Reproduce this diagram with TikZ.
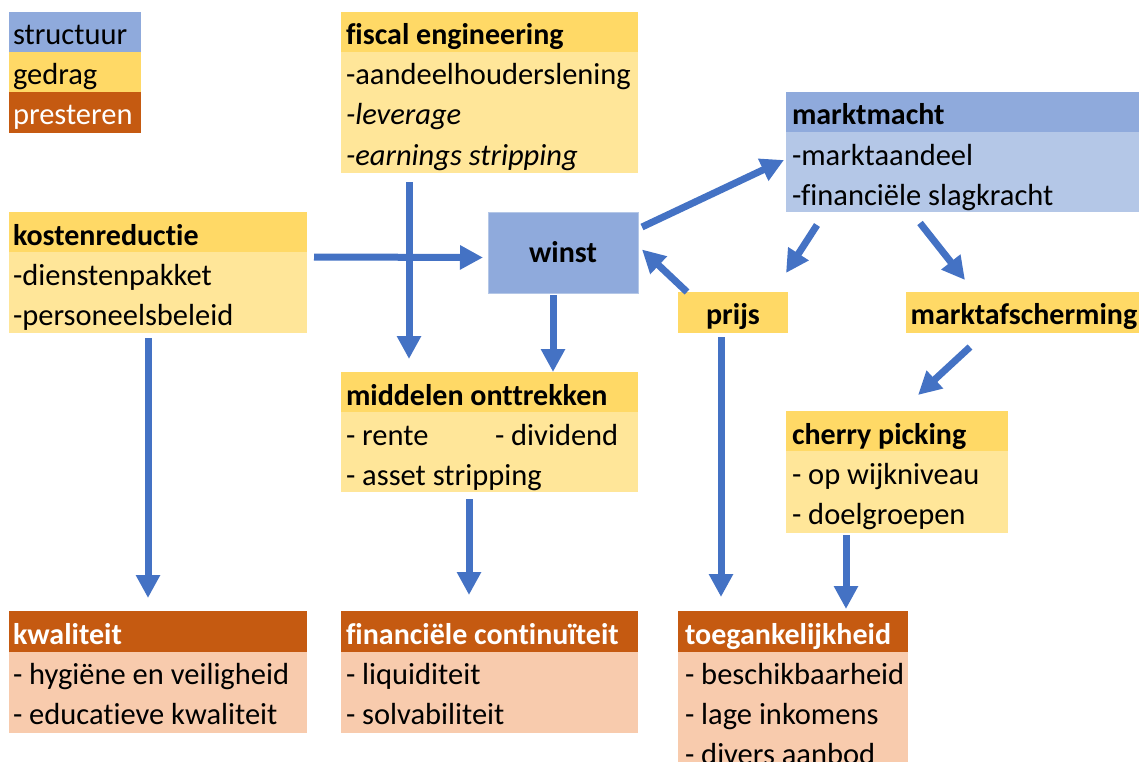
\documentclass[tikz,border=0pt]{standalone}
\usepackage{fontspec}
\setmainfont{Carlito}[Ligatures=NoCommon]
\usetikzlibrary{arrows.meta}
\definecolor{sblue}{HTML}{8FAADC}
\definecolor{lblue}{HTML}{B4C7E7}
\definecolor{sgold}{HTML}{FFD966}
\definecolor{lgold}{HTML}{FFE699}
\definecolor{sorange}{HTML}{C55A11}
\definecolor{lorange}{HTML}{F8CBAD}
\definecolor{arrblue}{HTML}{4472C4}
\tikzset{
  box/.style={draw=none, rectangle, inner sep=0pt, outer sep=0pt, anchor=north west},
  txt/.style={inner sep=0pt, outer sep=0pt, anchor=base west, font=\fontsize{30.5}{40}\selectfont},
  btxt/.style={txt, font=\fontsize{30}{40}\selectfont\bfseries},
  ctxt/.style={inner sep=0pt, outer sep=0pt, anchor=base, font=\fontsize{30}{40}\selectfont\bfseries},
  arr/.style={draw=arrblue, line width=7pt, -{Triangle[width=23pt,length=23pt]}},
}
\begin{document}
\begin{tikzpicture}[x=1pt,y=-1pt]
\useasboundingbox (0,0) rectangle (1139,762);
\begin{scope}
\clip (0,0) rectangle (1139,762);
% legend
\node[box, fill=sblue, minimum width=132, minimum height=40] (legS) at (9,12) {};
\node[box, fill=sgold, minimum width=132, minimum height=40] (legG) at (9,52) {};
\node[box, fill=sorange, minimum width=132, minimum height=41] (legP) at (9,92) {};
\node[txt] (legSt) at (13,45) {structuur};
\node[txt] (legGt) at (13,85) {gedrag};
\node[txt, text=white] (legPt) at (13,125) {presteren};
% kostenreductie
\node[box, fill=sgold, minimum width=298, minimum height=40] (kostH) at (9,212) {};
\node[box, fill=lgold, minimum width=298, minimum height=81] (kostB) at (9,252) {};
\node[btxt] (kostT) at (13,245) {kostenreductie};
\node[txt] (kost1) at (13,285) {-dienstenpakket};
\node[txt] (kost2) at (13,325) {-personeelsbeleid};
% fiscal engineering
\node[box, fill=sgold, minimum width=297, minimum height=40] (fiscH) at (341,12) {};
\node[box, fill=lgold, minimum width=297, minimum height=121] (fiscB) at (341,52) {};
\node[btxt] (fiscT) at (346,45) {fiscal engineering};
\node[txt] (fisc1) at (346,85) {-aandeelhouderslening};
\node[txt] (fisc2) at (346,125) {\itshape -leverage};
\node[txt] (fisc3) at (346,165) {\itshape -earnings stripping};
% winst
\node[box, fill=sblue, draw=lblue, line width=0.8pt, minimum width=150, minimum height=81] (winst) at (488,212) {};
\node[ctxt] (winstT) at (563,262) {winst};
% marktmacht
\node[box, fill=sblue, minimum width=353, minimum height=40] (mmH) at (786,92) {};
\node[box, fill=lblue, minimum width=353, minimum height=80] (mmB) at (786,132) {};
\node[btxt] (mmT) at (792,125) {marktmacht};
\node[txt] (mm1) at (792,165) {-marktaandeel};
\node[txt] (mm2) at (792,205) {-financiële slagkracht};
% prijs, marktafscherming
\node[box, fill=sgold, minimum width=110, minimum height=41] (prijs) at (678,292) {};
\node[ctxt] (prijsT) at (733,324) {prijs};
\node[box, fill=sgold, minimum width=233, minimum height=41] (mafs) at (906,292) {};
\node[ctxt] (mafsT) at (1024,324) {marktafscherming};
% middelen onttrekken
\node[box, fill=sgold, minimum width=297, minimum height=40] (midH) at (341,372) {};
\node[box, fill=lgold, minimum width=297, minimum height=80] (midB) at (341,412) {};
\node[btxt] (midT) at (346,405) {middelen onttrekken};
\node[txt] (mid1) at (346,445) {- rente};
\node[txt] (mid1b) at (495,445) {- dividend};
\node[txt] (mid2) at (346,485) {- asset stripping};
% cherry picking
\node[box, fill=sgold, minimum width=222, minimum height=40] (cherH) at (786,411) {};
\node[box, fill=lgold, minimum width=222, minimum height=82] (cherB) at (786,451) {};
\node[btxt] (cherT) at (792,444) {cherry picking};
\node[txt] (cher1) at (792,484) {- op wijkniveau};
\node[txt] (cher2) at (792,524) {- doelgroepen};
% kwaliteit
\node[box, fill=sorange, minimum width=298, minimum height=41] (kwalH) at (9,611) {};
\node[box, fill=lorange, minimum width=298, minimum height=81] (kwalB) at (9,652) {};
\node[btxt, text=white] (kwalT) at (13,644) {kwaliteit};
\node[txt] (kwal1) at (13,684) {- hygiëne en veiligheid};
\node[txt] (kwal2) at (13,724) {- educatieve kwaliteit};
% financiele continuiteit
\node[box, fill=sorange, minimum width=297, minimum height=41] (finH) at (341,611) {};
\node[box, fill=lorange, minimum width=297, minimum height=81] (finB) at (341,652) {};
\node[btxt, text=white] (finT) at (346,644) {financiële continuïteit};
\node[txt] (fin1) at (346,684) {- liquiditeit};
\node[txt] (fin2) at (346,724) {- solvabiliteit};
% toegankelijkheid
\node[box, fill=sorange, minimum width=230, minimum height=41] (toegH) at (678,611) {};
\node[box, fill=lorange, minimum width=230, minimum height=130] (toegB) at (678,652) {};
\node[btxt, text=white] (toegT) at (685,644) {toegankelijkheid};
\node[txt] (toeg1) at (685,684) {- beschikbaarheid};
\node[txt] (toeg2) at (685,724) {- lage inkomens};
\node[txt] (toeg3) at (685,764) {- divers aanbod};
\end{scope}
% arrows
\draw[arr] ([shift={(7,5)}]kostH.south east) -- ([shift={(-5,5)}]winst.west);
\draw[arr] ([shift={(68,9)}]fiscB.south west) -- ([shift={(68,-13)}]midH.north west);
\draw[arr] ([shift={(65,2)}]winst.south west) -- ([shift={(212,0)}]midH.north west);
\draw[arr] ([shift={(4,15)}]winst.north east) -- ([shift={(-2,28)}]mmB.north west);
\draw[arr] ([shift={(9,0)}]prijs.north west) -- ([shift={(4,-3)}]winst.east);
\draw[arr] ([shift={(31,13)}]mmB.south west) -- ([shift={(-2,-19)}]prijs.north east);
\draw[arr] ([shift={(134,11)}]mmB.south west) -- ([shift={(59,-12)}]mafs.north west);
\draw[arr] ([shift={(64,14)}]mafs.south west) -- ([shift={(132,-16)}]cherH.north west);
\draw[arr] ([shift={(43,4)}]prijs.south west) -- ([shift={(43,-14)}]toegH.north west);
\draw[arr] ([shift={(60,2)}]cherB.south west) -- ([shift={(168,-2)}]toegH.north west);
\draw[arr] ([shift={(139,5)}]kostB.south west) -- ([shift={(139,-13)}]kwalH.north west);
\draw[arr] ([shift={(128,7)}]midB.south west) -- ([shift={(128,-16)}]finH.north west);
\end{tikzpicture}
\end{document}
